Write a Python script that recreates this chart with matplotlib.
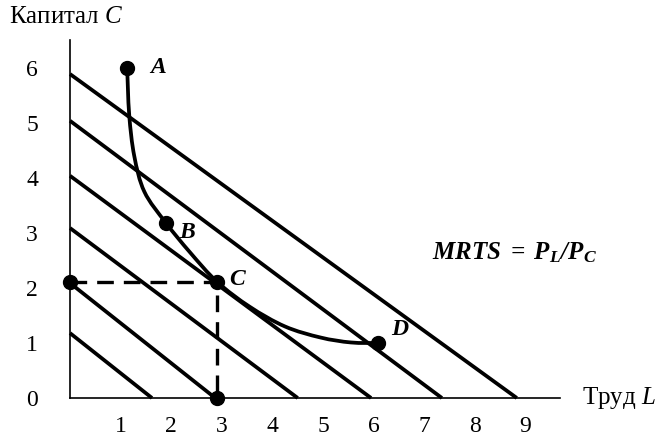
import matplotlib.pyplot as plt
from matplotlib.path import Path
from matplotlib.patches import PathPatch
import numpy as np

plt.rcParams['font.family'] = ['Liberation Serif', 'DejaVu Serif']
plt.rcParams['mathtext.fontset'] = 'custom'
plt.rcParams['mathtext.rm'] = 'Liberation Serif'
plt.rcParams['mathtext.it'] = 'Liberation Serif:italic'
plt.rcParams['mathtext.bf'] = 'Liberation Serif:bold'
plt.rcParams['mathtext.bfit'] = 'Liberation Serif:italic:bold'

# изокосты: отрезки на осях (капитал, труд)
isocost_k = [1.18, 2.09, 3.09, 4.04, 5.04, 5.89]
isocost_l = [1.62, 2.87, 4.50, 5.95, 7.35, 8.83]

# изокванта
quant_l = [1.13, 1.17, 1.27, 1.47, 1.89, 2.37, 2.91, 3.55, 4.25, 4.95, 5.55, 6.09]
quant_k = [6.00, 5.15, 4.40, 3.75, 3.19, 2.65, 2.11, 1.66, 1.30, 1.10, 1.01, 1.00]

# точки A, B, C, D
pt_names = ['A', 'B', 'C', 'D']
pt_l = [1.13, 1.89, 2.91, 6.09]
pt_k = [6.00, 3.19, 2.11, 1.00]

x_ticks = [1, 2, 3, 4, 5, 6, 7, 8, 9]
y_ticks = [0, 1, 2, 3, 4, 5, 6]

fig = plt.figure(figsize=(6.59, 4.37), dpi=100)
ax = fig.add_axes([70 / 659, 39 / 437, 490 / 659, 358 / 437])
ax.set_xlim(0, 490 / 50.6)
ax.set_ylim(0, 358 / 55)

for s in ['top', 'right']:
    ax.spines[s].set_visible(False)
for s in ['left', 'bottom']:
    ax.spines[s].set_linewidth(1.2)

ax.set_xticks(x_ticks)
ax.set_yticks(y_ticks)
ax.tick_params(axis='x', length=0, pad=13, labelsize=17)
ax.tick_params(axis='y', length=0, pad=23, labelsize=17)

# изокосты
for k0, l0 in zip(isocost_k, isocost_l):
    ax.plot([0, l0], [k0, 0], color='black', lw=2.7, solid_capstyle='butt', clip_on=False)

# пунктир к точке C
ax.plot([0, pt_l[2], pt_l[2]], [pt_k[2], pt_k[2], 0], color='black', lw=2.4,
        ls=(0, (5, 3)), clip_on=False)

# изокванта: гладкая кривая (Безье) через считанные точки
P = np.column_stack([quant_l, quant_k])
ext = np.vstack([P[0], P, P[-1]])
verts = [P[0]]
codes = [Path.MOVETO]
for i in range(len(P) - 1):
    p0, p1, p2, p3 = ext[i], ext[i + 1], ext[i + 2], ext[i + 3]
    verts += [p1 + (p2 - p0) / 6, p2 - (p3 - p1) / 6, p2]
    codes += [Path.CURVE4] * 3
ax.add_patch(PathPatch(Path(verts, codes), fill=False, color='black', lw=2.7,
                       clip_on=False))

# точки
ax.plot(pt_l, pt_k, 'o', color='black', ms=10, clip_on=False)
ax.plot([0, pt_l[2]], [pt_k[2], 0], 'o', color='black', ms=10, clip_on=False)

label_off = {'A': (0.61, 0.0), 'B': (0.44, -0.19), 'C': (0.41, 0.05), 'D': (0.43, 0.24)}
for n, l, k in zip(pt_names, pt_l, pt_k):
    dx, dy = label_off[n]
    ax.text(l + dx, k + dy, r'$\mathbfit{' + n + '}$', fontsize=17, ha='center', va='center')

ax.text(8.79, 2.64, r'$\mathbfit{MRTS\ =\ P_L/P_C}$', fontsize=18, ha='center', va='center')

ax.text(-0.08, 6.93, r'Капитал $\mathit{C}$', fontsize=18, ha='center', va='center', clip_on=False)
ax.text(10.12, 0.0, r'Труд $\mathit{L}$', fontsize=18, ha='left', va='center', clip_on=False)

fig.savefig('out.png', dpi=100)
